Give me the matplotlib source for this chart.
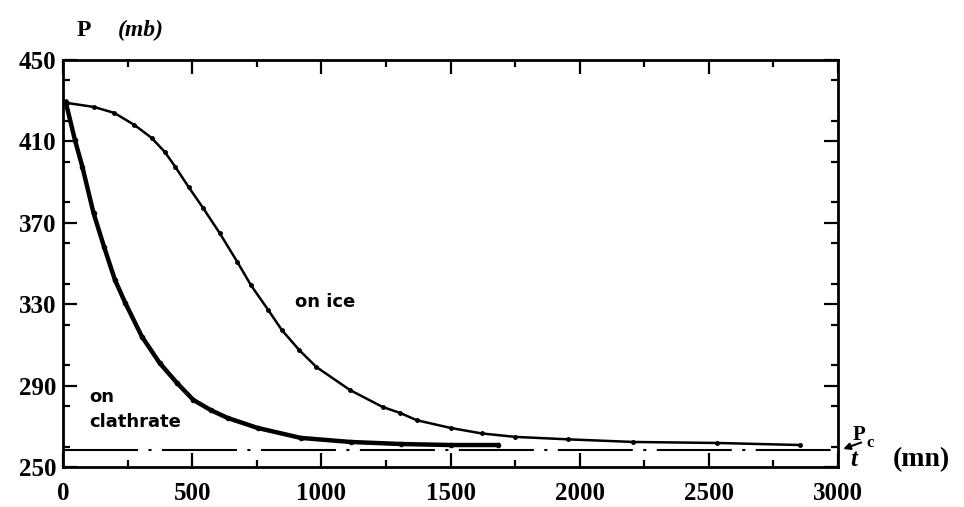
import matplotlib
matplotlib.use('Agg')
import matplotlib.pyplot as plt
from matplotlib.ticker import MultipleLocator

# pressure decay readings (t in mn, P in mb)
t_ice = [15, 120, 198, 276, 343, 394, 435, 486, 542, 606, 675, 727, 794,
         847, 914, 981, 1111, 1237, 1306, 1369, 1500, 1620, 1750, 1953,
         2208, 2533, 2854]
p_ice = [428.9, 426.9, 424.0, 418.1, 411.7, 404.8, 397.4, 387.6, 377.3,
         365.0, 350.7, 339.4, 327.2, 317.3, 307.5, 299.1, 287.8, 279.5,
         276.5, 273.0, 269.2, 266.5, 264.8, 263.6, 262.3, 261.8, 260.8]

t_clath = [10, 46, 75, 118, 159, 201, 241, 306, 374, 441, 504, 571, 637,
           753, 920, 1113, 1307, 1500, 1682]
p_clath = [429.5, 410.7, 397.4, 374.8, 358.1, 341.9, 330.6, 313.9, 301.1,
           291.3, 283.0, 278.0, 274.1, 269.2, 264.3, 262.3, 261.3, 260.8,
           260.8]

p_c = 258.4
x_ticks = [0, 500, 1000, 1500, 2000, 2500, 3000]
y_ticks = [250, 290, 330, 370, 410, 450]

serif = {'family': 'Liberation Serif', 'weight': 'bold'}
sans = {'family': 'DejaVu Sans', 'weight': 'bold'}

fig = plt.figure(figsize=(9.64, 5.07), dpi=100)
ax = fig.add_axes([0.0654, 0.0789, 0.8039, 0.8028])

ax.plot(t_clath, p_clath, color='black', lw=3.2, marker='o', markersize=3)
ax.plot(t_ice, p_ice, color='black', lw=1.8, marker='o', markersize=2.5)
ax.plot([0, 3000], [p_c, p_c], color='black', lw=1.5, dashes=(36, 5, 1.5, 5))

ax.set_xlim(0, 3000)
ax.set_ylim(250, 450)
ax.set_xticks(x_ticks)
ax.set_yticks(y_ticks)
ax.xaxis.set_minor_locator(MultipleLocator(250))
ax.yaxis.set_minor_locator(MultipleLocator(20))
ax.tick_params(which='both', direction='in', top=True, right=True, width=1.6)
ax.tick_params(which='major', length=10)
ax.tick_params(which='minor', length=5)
ax.tick_params(axis='x', pad=11)
ax.tick_params(axis='y', pad=5)
for lab in ax.get_xticklabels() + ax.get_yticklabels():
    lab.set_fontproperties(serif)
    lab.set_fontsize(18)
for s in ax.spines.values():
    s.set_linewidth(2.0)

fig.text(0.079, 0.929, 'P', fontsize=17, **serif)
fig.text(0.122, 0.929, '(mb)', fontsize=17, style='italic', **serif)
ax.text(897, 328.6, 'on ice', fontsize=13, **sans)
ax.text(100, 282, 'on', fontsize=13, **sans)
ax.text(100, 269.7, 'clathrate', fontsize=13, **sans)

fig.text(0.884, 0.133, 'P', fontsize=15, **serif)
fig.text(0.899, 0.119, 'c', fontsize=12, **serif)
ax.annotate('', xy=(3010, p_c), xytext=(3100, 262.5),
            arrowprops=dict(arrowstyle='-|>', color='black', lw=1.5),
            annotation_clip=False)
fig.text(0.882, 0.081, 't', fontsize=18, style='italic', **serif)
fig.text(0.926, 0.081, '(mn)', fontsize=20, **serif)

plt.savefig('out.png', dpi=100)
